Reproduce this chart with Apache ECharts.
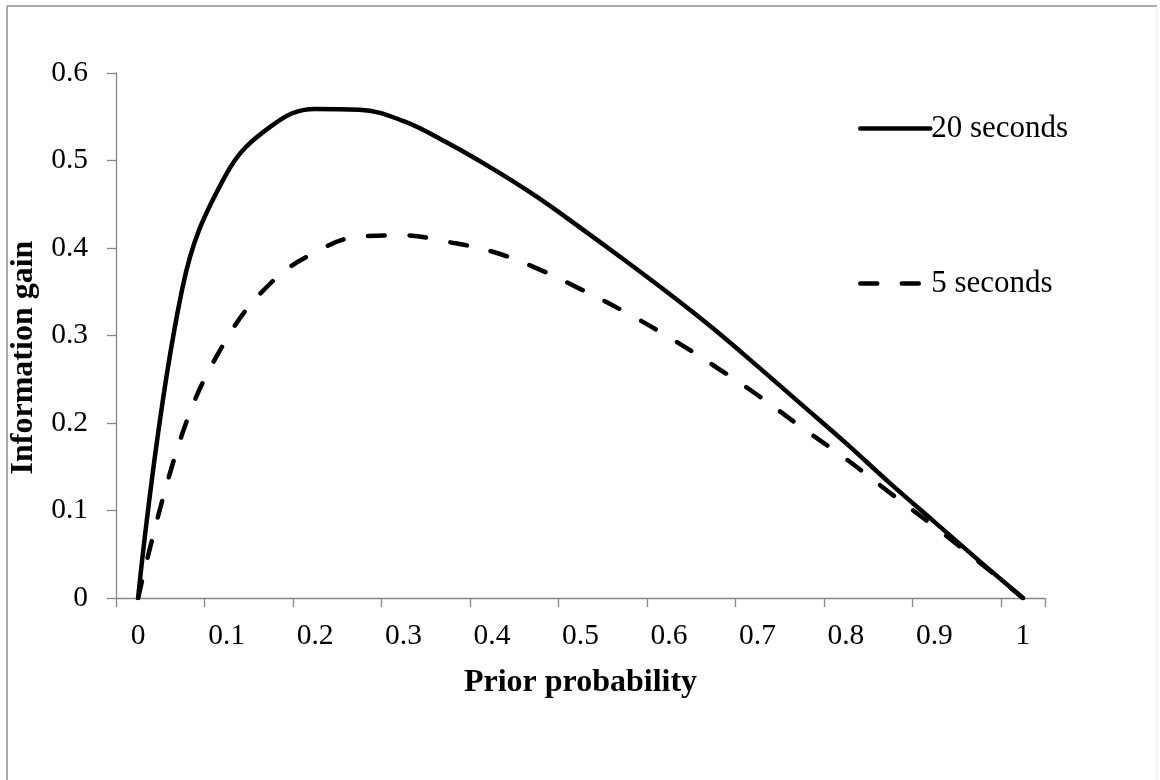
<!DOCTYPE html>
<html>
<head>
<meta charset="utf-8">
<script src="https://cdn.jsdelivr.net/npm/echarts@6/dist/echarts.min.js"></script>
<style>
  html, body { margin: 0; padding: 0; background: #fff; }
  #main { width: 1160px; height: 780px; }
</style>
</head>
<body>
<div id="main"></div>
<script>
// prior probability categories (step 0.05), labels shown every other one
var priors = ['0', '0.05', '0.1', '0.15', '0.2', '0.25', '0.3', '0.35', '0.4', '0.45', '0.5',
              '0.55', '0.6', '0.65', '0.7', '0.75', '0.8', '0.85', '0.9', '0.95', '1'];
// information gain
var gain20 = [0, 0.354, 0.485, 0.539, 0.559, 0.558, 0.545, 0.520, 0.491, 0.459, 0.423,
              0.386, 0.348, 0.308, 0.265, 0.221, 0.177, 0.131, 0.087, 0.043, 0];
var gain5  = [0, 0.188, 0.296, 0.360, 0.395, 0.413, 0.4145, 0.407, 0.396, 0.377, 0.353,
              0.327, 0.298, 0.266, 0.232, 0.195, 0.159, 0.120, 0.0815, 0.0415, 0];
var seriesNames = ['20 seconds', '5 seconds'];

var serif = '"Liberation Serif", "Times New Roman", serif';
var axisGrey = '#868686';
var dash = [17, 24.5];

var myChart = echarts.init(document.getElementById('main'), null, { renderer: 'canvas' });

var option = {
    backgroundColor: '#fff',
    animation: false,
    grid: { left: 116, top: 73, right: 115, bottom: 182 },
    legend: [
        {
            data: [seriesNames[0]], left: 853, top: 108,
            itemWidth: 70, itemHeight: 14, itemGap: 6,
            itemStyle: { opacity: 0 },
            lineStyle: { width: 4.5, type: 'solid', cap: 'round' },
            textStyle: { fontFamily: serif, fontSize: 31, color: '#000', padding: [0, 0, 0, -4] }
        },
        {
            data: [seriesNames[1]], left: 853, top: 263,
            itemWidth: 70, itemHeight: 14, itemGap: 6,
            itemStyle: { opacity: 0 },
            lineStyle: { width: 4.5, type: dash, cap: 'round' },
            textStyle: { fontFamily: serif, fontSize: 31, color: '#000', padding: [0, 0, 0, -4] }
        }
    ],
    xAxis: {
        type: 'category',
        data: priors,
        boundaryGap: true,
        name: 'Prior probability',
        nameLocation: 'middle',
        nameGap: 69,
        nameTextStyle: { fontFamily: serif, fontSize: 32, fontWeight: 'bold', color: '#000' },
        axisLine: { lineStyle: { color: axisGrey, width: 1.3 } },
        axisTick: { show: true, interval: 1, length: 9, lineStyle: { color: axisGrey, width: 1.3 } },
        axisLabel: { interval: 1, margin: 23, fontFamily: serif, fontSize: 29.5, color: '#000' },
        splitLine: { show: false }
    },
    yAxis: {
        type: 'value',
        min: 0,
        max: 0.6,
        interval: 0.1,
        name: 'Information gain',
        nameLocation: 'middle',
        nameGap: 67,
        nameTextStyle: { fontFamily: serif, fontSize: 32, fontWeight: 'bold', color: '#000', padding: [0, 44, 0, 0] },
        axisLine: { show: true, lineStyle: { color: axisGrey, width: 1.3 } },
        axisTick: { show: true, length: 9, lineStyle: { color: axisGrey, width: 1.3 } },
        axisLabel: { margin: 28, fontFamily: serif, fontSize: 29.5, color: '#000' },
        splitLine: { show: false }
    },
    series: [
        {
            name: seriesNames[0],
            type: 'line',
            data: gain20,
            smooth: 0.4,
            symbol: 'none',
            color: '#000',
            lineStyle: { color: '#000', width: 4.5, cap: 'round', join: 'round' }
        },
        {
            name: seriesNames[1],
            type: 'line',
            data: gain5,
            smooth: 0.4,
            symbol: 'none',
            color: '#000',
            lineStyle: { color: '#000', width: 4.5, type: dash, cap: 'round', join: 'round' }
        }
    ],
    graphic: [
        { type: 'line', shape: { x1: 7, y1: 6, x2: 7, y2: 780 }, style: { stroke: '#8c8c8c', lineWidth: 1.5 } },
        { type: 'line', shape: { x1: 7, y1: 6, x2: 1157, y2: 6 }, style: { stroke: '#8c8c8c', lineWidth: 1.5 } },
        { type: 'line', shape: { x1: 1157, y1: 6, x2: 1157, y2: 780 }, style: { stroke: '#ececec', lineWidth: 1 } }
    ]
};

myChart.setOption(option, true);
</script>
</body>
</html>
